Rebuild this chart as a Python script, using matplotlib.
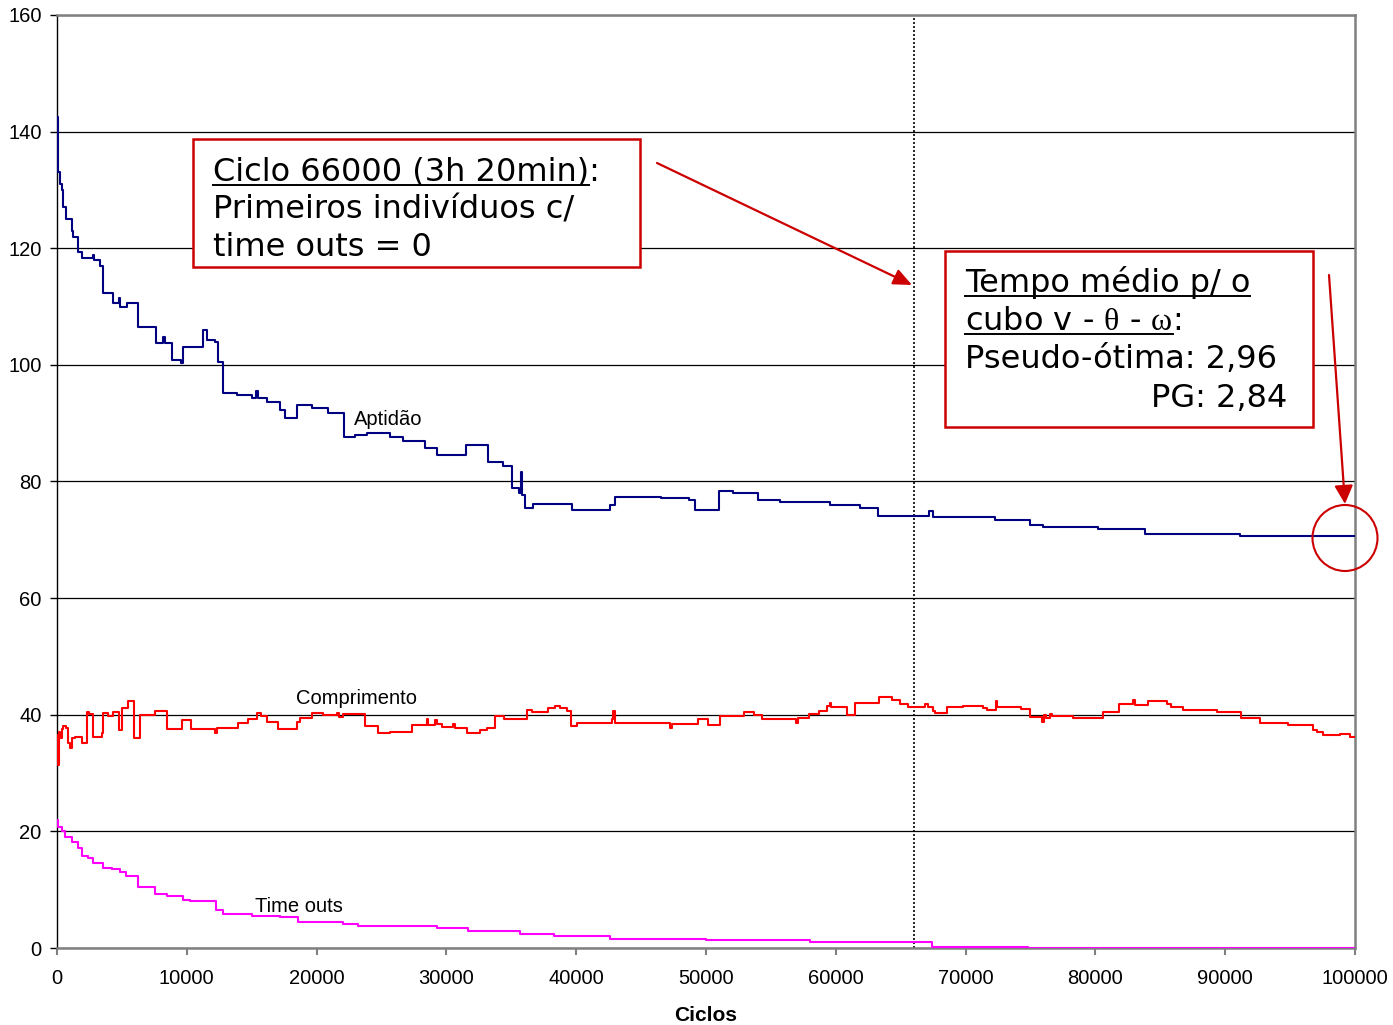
import matplotlib.pyplot as plt
from matplotlib.patches import Rectangle, Ellipse, FancyArrowPatch
from matplotlib.lines import Line2D

plt.rcParams['mathtext.fontset'] = 'custom'
plt.rcParams['mathtext.rm'] = 'Liberation Serif'

W, H = 1393, 1025

# Aptidão (fitness of the best individual), step changes per cycle
apt_x = [0, 40, 100, 200, 360, 437, 693, 1130, 1258, 1643, 1900, 2750, 2850, 3300,
         3520, 4340, 4750, 4850, 5370, 6270, 7630, 8150, 8300, 8830, 9550, 9730,
         11270, 11530, 12170, 12400, 12810, 13840, 15000, 15300, 15500, 16200,
         17200, 17600, 18470, 19620, 20900, 22140, 22960, 23860, 25650, 26680,
         28350, 29250, 31510, 33230, 34380, 35030, 35600, 35720, 35850, 36060,
         36700, 39650, 42600, 42990, 46500, 48700, 49150, 51020, 52100, 54030,
         55700, 59550, 61860, 63250, 67200, 67500, 72260, 74960, 76000, 80200,
         83820, 91140, 100000]
apt_y = [142.5, 136, 133, 131, 130, 127, 125, 123, 122, 119.4, 118.3, 118.8, 118, 117,
         112.3, 110.6, 111.5, 110, 110.6, 106.5, 103.8, 104.8, 103.8, 100.9, 100.3, 103.1,
         106, 104.3, 104, 100.5, 95.2, 94.8, 94.3, 95.5, 94.3, 93.6,
         92.3, 90.9, 93.1, 92.6, 91.8, 87.7, 88, 88.3, 87.7, 87,
         85.8, 84.6, 86.3, 83.4, 82.6, 78.8, 78, 81.7, 77.7, 75.5,
         76.1, 75.1, 75.9, 77.4, 77.2, 76.8, 75.1, 78.4, 78.1, 76.8,
         76.5, 76, 75.5, 74.1, 75, 73.9, 73.4, 72.6, 72.2, 71.9,
         71, 70.7, 70.6]

# Comprimento (program length)
comp_x = [0, 50, 100, 150, 250, 360, 490, 700, 870, 1000, 1130, 1390, 1900, 2290,
          2500, 2800, 3440, 3570, 3950, 4290, 4800, 4980, 5500, 5930, 6390, 7550,
          8450, 9600, 10300, 12170, 12300, 13970, 14740, 15380, 15700, 16150, 17050,
          18470, 18720, 19620, 20520, 21550, 21750, 22060, 23730, 24750, 25650,
          27330, 28480, 28610, 29120, 29300, 29640, 30530, 30660, 31560, 32590,
          33100, 33740, 34440, 36190, 36570, 37850, 38370, 38750, 39270, 39570,
          40040, 42730, 42860, 42990, 45300, 47230, 47360, 49410, 50180, 51080,
          52910, 53710, 54290, 56920, 57080, 57950, 58690, 59330, 59550, 59650,
          60840, 61480, 63340, 64300, 64940, 65590, 66870, 67100, 67510, 67670,
          68540, 69820, 71360, 71680, 72320, 72390, 74250, 74960, 75860, 76020,
          76180, 76500, 76660, 78270, 79320, 80610, 81800, 82920, 83080, 84040,
          85490, 85810, 86770, 89340, 91200, 92710, 94800, 96730, 97050, 97530,
          98810, 99610, 100000]
comp_y = [33, 36.5, 31.4, 37, 36, 37.5, 38, 37.8, 35.2, 34.3, 36, 36.2, 35.2, 40.5,
          40.2, 36.2, 36.9, 40.3, 39.7, 40.5, 37.4, 41.1, 42.4, 36, 40, 40.7,
          37.5, 39.1, 37.6, 36.9, 37.7, 38.5, 39.3, 40.3, 39.8, 38.8, 37.5,
          38.7, 39.5, 40.3, 39.9, 40.3, 39.6, 40.2, 38, 36.8, 37.1,
          38.2, 39.2, 38.3, 39.1, 38.4, 37.9, 38.4, 37.7, 36.9, 37.3,
          37.8, 39.8, 39.2, 40.8, 40.5, 41.1, 41.5, 41.2, 40.7, 38.1,
          38.6, 39.3, 40.6, 38.5, 38.6, 37.8, 38.4, 39.2, 38.3, 39.8,
          40.5, 40, 39.2, 38.6, 39.4, 40.2, 40.7, 41.5, 42.1, 41.3,
          40, 42.1, 43.1, 42.5, 41.9, 41.3, 41.9, 41.3, 40.6, 40.3,
          41.3, 41.5, 41.2, 40.9, 42.4, 41.4, 41, 39.6, 38.8, 40,
          39.4, 40.2, 39.8, 39.5, 39.4, 40.5, 41.9, 42.5, 41.7, 42.4,
          41.9, 41.3, 40.8, 40.5, 39.4, 38.5, 38.3, 37.4, 37.1, 36.5,
          36.7, 36.2, 36.2]

# Time outs
to_x = [0, 100, 360, 620, 1130, 1640, 1900, 2410, 2800, 3570, 4210, 4850, 5320,
        6270, 7550, 8450, 9730, 10250, 12250, 12810, 15000, 17180, 18590, 22060,
        23210, 23860, 29250, 31700, 35670, 38300, 42600, 50000, 58000, 67400,
        74800, 100000]
to_y = [22, 20.8, 20, 19.1, 18.1, 17.1, 15.8, 15.4, 14.6, 13.8, 13.5, 13.1, 12.3,
        10.5, 9.3, 8.9, 8.3, 8.1, 6.5, 5.8, 5.5, 5.3, 4.5, 4.2,
        3.8, 3.7, 3.4, 2.9, 2.4, 2.1, 1.5, 1.4, 1.1, 0.25,
        0.05, 0.05]

x_ticks = list(range(0, 100001, 10000))
y_ticks = list(range(0, 161, 20))
marked_cycle = 66000

fig = plt.figure(figsize=(W / 100, H / 100), dpi=100)
ax = fig.add_axes([57 / W, 1 - 948 / H, (1355 - 57) / W, (948 - 15) / H])

ax.plot(apt_x, apt_y, drawstyle='steps-post', color='#000080', lw=1.5, zorder=3)
ax.plot(comp_x, comp_y, drawstyle='steps-post', color='#ff0000', lw=1.5, zorder=3)
ax.plot(to_x, to_y, drawstyle='steps-post', color='#ff00ff', lw=1.5, zorder=3)
ax.axvline(marked_cycle, color='black', ls=(0, (1.2, 1.2)), lw=1.2, zorder=2)

ax.set_xlim(0, 100000)
ax.set_ylim(0, 160)
ax.set_xticks(x_ticks)
ax.set_yticks(y_ticks)
ax.set_xticklabels([str(v) for v in x_ticks], family='Liberation Sans', fontsize=14.5)
ax.set_yticklabels([str(v) for v in y_ticks], family='Liberation Sans', fontsize=14.5)
ax.tick_params(axis='x', direction='out', length=5, width=1.5, color='#808080', pad=10)
ax.tick_params(axis='y', direction='out', length=5, width=1, color='black', pad=6)
ax.yaxis.grid(True, color='black', lw=0.9)
ax.set_axisbelow(True)
for side in ['top', 'right', 'bottom']:
    ax.spines[side].set_color('#808080')
    ax.spines[side].set_linewidth(1.8)
ax.spines['left'].set_color('black')
ax.spines['left'].set_linewidth(1.0)
ax.set_xlabel('Ciclos', family='Liberation Sans', fontsize=15, fontweight='bold', labelpad=13)

# series labels
lab = dict(family='Liberation Sans', fontsize=14.5, ha='center', va='baseline', zorder=4)
ax.text(25500, 89.7, 'Aptidão', **lab)
ax.text(23070, 41.9, 'Comprimento', **lab)
ax.text(18640, 6.2, 'Time outs', **lab)

# callout boxes, arrows and circle (figure pixel positions)
red = '#cc0000'


def fx(x):
    return x / W


def fy(y):
    return 1 - y / H


fig.add_artist(Rectangle((fx(193), fy(267)), (640 - 193) / W, (267 - 139) / H,
                         transform=fig.transFigure, fc='white', ec=red, lw=1.8, zorder=5))
fig.add_artist(Rectangle((fx(945), fy(427)), (1313 - 945) / W, (427 - 251) / H,
                         transform=fig.transFigure, fc='white', ec=red, lw=1.8, zorder=5))
fig.add_artist(FancyArrowPatch((fx(657), fy(163)), (fx(912), fy(285)), transform=fig.transFigure,
                               arrowstyle='-|>,head_length=0.8,head_width=0.35', mutation_scale=14,
                               color=red, lw=1.6, zorder=5, shrinkA=0, shrinkB=0))
fig.add_artist(FancyArrowPatch((fx(1329), fy(275)), (fx(1345), fy(504)), transform=fig.transFigure,
                               arrowstyle='-|>,head_length=0.8,head_width=0.4', mutation_scale=14,
                               color=red, lw=1.6, zorder=5, shrinkA=0, shrinkB=0))
fig.add_artist(Ellipse((fx(1345), fy(538)), 65 / W, 66 / H, transform=fig.transFigure,
                       fill=False, ec=red, lw=1.5, zorder=5))

fig.canvas.draw()
renderer = fig.canvas.get_renderer()
box_font = dict(family='DejaVu Sans', fontsize=23, va='baseline', zorder=7)


def box_line(x, y, text, under=None, ha='left'):
    fig.text(fx(x), fy(y), text, ha=ha, **box_font)
    if under:
        probe = fig.text(fx(x), fy(y), under, ha='left', **box_font)
        bb = probe.get_window_extent(renderer=renderer)
        probe.remove()
        fig.add_artist(Line2D([bb.x0 / W, bb.x1 / W], [fy(y + 4)] * 2, transform=fig.transFigure,
                              color='black', lw=1.4, zorder=7))


box_line(213, 181, 'Ciclo 66000 (3h 20min):', 'Ciclo 66000 (3h 20min)')
box_line(213, 219, 'Primeiros indivíduos c/')
box_line(213, 256, 'time outs = 0')

box_line(965, 292, 'Tempo médio p/ o', 'Tempo médio p/ o')
box_line(965, 330, r'cubo v - $\mathrm{\theta}$ - $\mathrm{\omega}$:',
         r'cubo v - $\mathrm{\theta}$ - $\mathrm{\omega}$')
box_line(965, 368, 'Pseudo-ótima: 2,96')
box_line(1287, 407, 'PG: 2,84', ha='right')

fig.savefig('out.png', dpi=100)
